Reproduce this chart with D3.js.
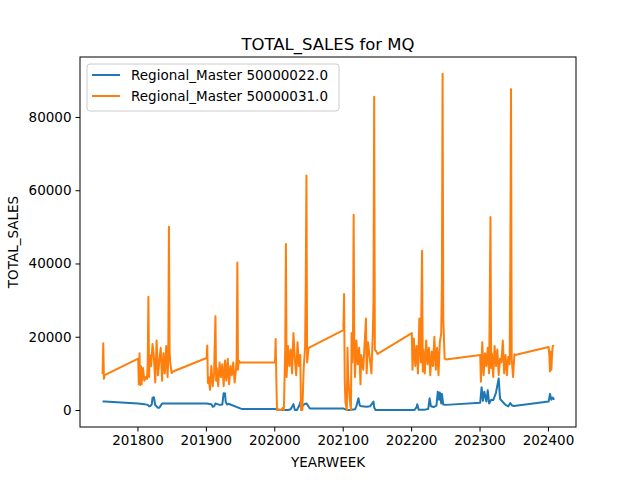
<!DOCTYPE html>
<html><head><meta charset="utf-8">
<script src="https://cdn.jsdelivr.net/npm/d3@7.9.0/dist/d3.min.js"></script>
<style>body{margin:0;background:#fff}text{font-family:"DejaVu Sans",sans-serif}</style>
</head><body>
<svg id="chart" width="640" height="480"></svg>
<script>
// YEARWEEK / TOTAL_SALES for Regional_Master 50000031.0 (orange)
const weeks31 = [201749,201750,201751,201752,
 201801,201802,201803,201804,201805,201806,201808,201810,201812,201814,201815,201816,201817,201818,201820,201822,201824,201826,201828,201830,201832,201834,201836,201838,201840,201842,201844,201845,201846,201847,201848,201850,201852,
 201901,201902,201903,201904,201906,201908,201910,201912,201914,201915,201916,201918,201920,201922,201924,201926,201928,201930,201932,201934,201936,201938,201940,201942,201944,201945,201946,201947,201948,201950,201952,
 202001,202002,202003,202004,202006,202008,202010,202012,202014,202016,202017,202018,202020,202022,202024,202026,202028,202030,202032,202034,202036,202038,202039,202041,202043,202045,202046,202047,202048,202050,202051,
 202101,202102,202103,202104,202106,202107,202108,202110,202112,202113,202114,202115,202116,202117,202118,202120,202122,202124,202126,202127,202130,202132,202134,202135,202137,202140,202142,202144,202145,202146,202147,202149,202151,
 202201,202202,202204,202206,202208,202210,202212,202214,202216,202217,202218,202220,202222,202224,202226,202228,202230,202232,202234,202236,202238,202240,202242,202244,202245,202246,202247,202249,202251,
 202301,202302,202304,202306,202308,202310,202312,202314,202316,202317,202318,202320,202322,202324,202326,202328,202330,202332,202334,202336,202338,202340,202342,202344,202345,202346,202347,202349,202351,202352,
 202401,202402,202403,202404,202405,202406,202407,202409];
const sales31 = [9800,18200,8500,9500,
 14000,7000,15500,6800,12000,7000,11500,8000,9000,8500,13000,30900,9000,15000,12000,18000,14500,7500,19000,9500,13500,17000,8000,15500,10000,17500,9000,14000,50000,16000,12800,10100,10500,
 14200,17600,7400,9000,5500,12000,6500,10000,25600,8000,11500,6500,13000,9000,12500,6500,13500,8000,14000,7000,12000,9500,13000,7500,11000,14000,40300,11000,13500,12900,13000,
 13000,19400,8200,0,0,0,0,500,0,17000,45300,9000,17500,12000,16500,10000,21000,14000,9500,18500,12000,15000,0,0,11500,17000,35000,64000,13000,16900,17000,
 21800,31700,8000,2000,0,17000,9500,3500,0,21000,13000,20000,53300,16000,9000,19000,12500,17000,7000,15000,11000,18000,25000,10000,18500,13500,10000,21000,30000,85500,16500,16000,15300,
 21000,11000,19500,12000,17500,10000,25000,13000,43500,10500,16500,10000,19000,12500,17000,9500,16000,12000,20000,11000,17000,9500,18500,21000,35000,91800,25000,14000,13800,
 15000,7700,18500,9500,15500,12000,17000,10000,52700,11500,15500,9000,17500,12000,16500,9500,14000,13000,19000,10000,15000,9500,14500,12500,40000,87600,14000,9000,15200,15000,
 17200,15000,10500,16000,11000,15000,17500,17500];

// YEARWEEK / TOTAL_SALES for Regional_Master 50000022.0 (blue)
const weeks22 = [201749,201752,
 201801,201810,201815,201817,201819,201821,201822,201824,201826,201828,201830,201832,201834,201836,201838,201852,
 201901,201908,201910,201912,201914,201920,201924,201926,201928,201929,201931,201933,201952,
 202001,202010,202020,202024,202028,202030,202033,202036,202039,202041,202044,202047,202052,
 202101,202105,202110,202118,202120,202123,202125,202128,202135,202140,202145,202146,202148,202150,202152,
 202201,202205,202208,202209,202211,202220,202225,202227,202229,202233,202237,202239,202241,202242,202244,202245,202247,202251,
 202301,202303,202305,202307,202310,202312,202314,202317,202320,202324,202328,202330,202334,202338,202342,202345,202347,202350,
 202401,202403,202405,202407,202409];
const sales22 = [2300,2300,
 1800,1600,1400,1000,1100,1600,3300,3500,1300,1000,600,600,1200,1800,1800,1800,
 1800,1600,900,1000,1800,1400,1500,4600,4500,2200,1500,1700,300,
 300,0,0,200,1600,0,0,1000,2600,1000,1600,1800,400,
 400,100,0,200,1000,3200,1200,1000,900,1000,2300,700,0,0,0,
 0,0,800,1600,100,100,300,3200,1000,800,1200,5000,2800,4800,1800,4400,1500,1400,
 2000,6200,2500,5000,2300,5400,1800,2800,2700,4700,8600,3000,2200,1400,1000,1900,1300,1100,
 2300,4400,2800,3400,2800];

const series = [
  {name: "Regional_Master 50000022.0", color: "#1f77b4", x: weeks22, y: sales22},
  {name: "Regional_Master 50000031.0", color: "#ff7f0e", x: weeks31, y: sales31}
];
const xTicks = [201800, 201900, 202000, 202100, 202200, 202300, 202400];
const yTicks = [0, 20000, 40000, 60000, 80000];

const svg = d3.select("#chart");
const L = 80, R = 576, T = 57, B = 427;
const x = d3.scaleLinear().domain([201716, 202441]).range([L, R]);
const y = d3.scaleLinear().domain([-4640, 96370]).range([B, T]);

svg.append("clipPath").attr("id", "c").append("rect")
  .attr("x", L).attr("y", T).attr("width", R - L).attr("height", B - T);

const line = d3.line().x(d => x(d[0])).y(d => y(d[1]));
series.forEach(s => {
  svg.append("path").datum(d3.zip(s.x, s.y))
    .attr("clip-path", "url(#c)")
    .attr("fill", "none").attr("stroke", s.color).attr("stroke-width", 2)
    .attr("stroke-linejoin", "round").attr("d", line);
});

const xa = svg.append("g").attr("transform", `translate(0,${B})`)
  .call(d3.axisBottom(x).tickValues(xTicks).tickFormat(d3.format("d")).tickSizeOuter(0).tickSize(4.5).tickPadding(4));
const ya = svg.append("g").attr("transform", `translate(${L},0)`)
  .call(d3.axisLeft(y).tickValues(yTicks).tickFormat(d3.format("d")).tickSizeOuter(0).tickSize(4.5).tickPadding(4));
[xa, ya].forEach(a => {
  a.select(".domain").remove();
  a.selectAll("text").attr("font-size", 13.5).attr("fill", "#000").attr("font-family", "DejaVu Sans");
  a.selectAll("line").attr("stroke", "#000").attr("stroke-width", 1);
});
svg.append("rect").attr("x", L).attr("y", T).attr("width", R - L).attr("height", B - T)
  .attr("fill", "none").attr("stroke", "#000").attr("stroke-width", 1);

svg.append("text").attr("x", (L + R) / 2).attr("y", 50).attr("text-anchor", "middle")
  .attr("font-size", 16.5).text("TOTAL_SALES for MQ");
svg.append("text").attr("x", (L + R) / 2).attr("y", 467).attr("text-anchor", "middle")
  .attr("font-size", 13.5).text("YEARWEEK");
svg.append("text").attr("transform", `translate(18,${(T + B) / 2}) rotate(-90)`).attr("text-anchor", "middle")
  .attr("font-size", 13.5).text("TOTAL_SALES");

const lg = svg.append("g").attr("transform", "translate(87,64)");
lg.append("rect").attr("width", 252).attr("height", 47).attr("rx", 3)
  .attr("fill", "#fff").attr("fill-opacity", 0.8).attr("stroke", "#ccc");
series.forEach((s, i) => {
  const yy = 11 + i * 21;
  lg.append("line").attr("x1", 5).attr("x2", 33).attr("y1", yy).attr("y2", yy)
    .attr("stroke", s.color).attr("stroke-width", 2);
  lg.append("text").attr("x", 44).attr("y", yy + 5).attr("font-size", 13.5).text(s.name);
});
</script>
</body></html>
